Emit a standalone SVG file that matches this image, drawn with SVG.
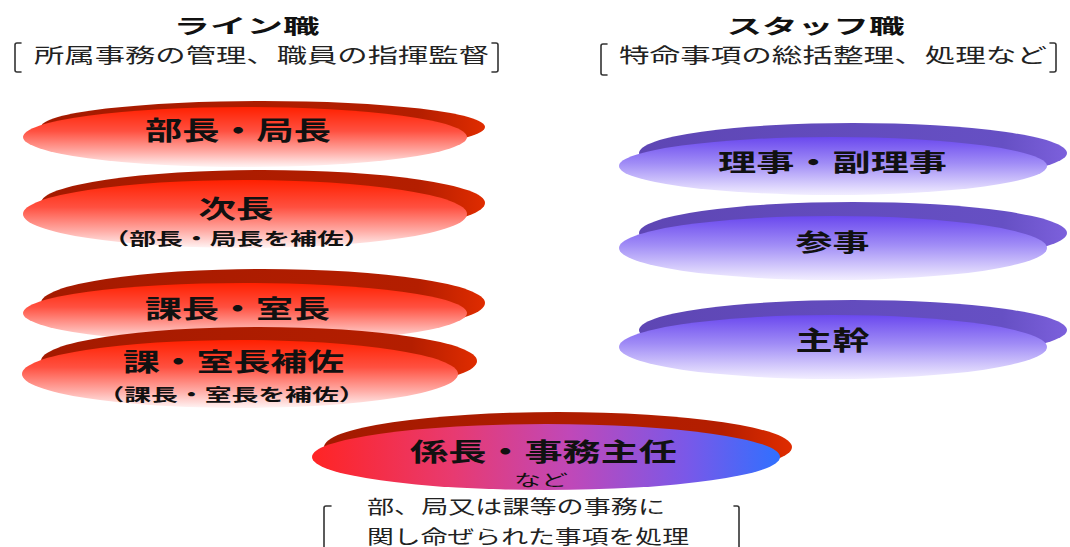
<svg xmlns="http://www.w3.org/2000/svg" width="1070" height="547" viewBox="0 0 1070 547">
<defs>
<linearGradient id="redFace" x1="0" y1="0" x2="0" y2="1">
<stop offset="0" stop-color="#ff2000"/>
<stop offset="0.4" stop-color="#ff5040"/>
<stop offset="0.75" stop-color="#ffaca6"/>
<stop offset="1" stop-color="#fff4f4"/>
</linearGradient>
<linearGradient id="redRim" x1="0" y1="0" x2="1" y2="0">
<stop offset="0" stop-color="#a41a00"/>
<stop offset="0.85" stop-color="#b41e00"/>
<stop offset="1" stop-color="#e02c00"/>
</linearGradient>
<linearGradient id="purpleFace" x1="0" y1="0" x2="0" y2="1">
<stop offset="0" stop-color="#6a48ee"/>
<stop offset="0.45" stop-color="#a08cf6"/>
<stop offset="1" stop-color="#f2eeff"/>
</linearGradient>
<linearGradient id="purpleRim" x1="0" y1="0" x2="1" y2="0">
<stop offset="0" stop-color="#5e46b4"/>
<stop offset="0.85" stop-color="#6650c4"/>
<stop offset="1" stop-color="#7c60dc"/>
</linearGradient>
<linearGradient id="mixFace" x1="0" y1="0" x2="1" y2="0">
<stop offset="0" stop-color="#ff2424"/>
<stop offset="0.3" stop-color="#e83a70"/>
<stop offset="0.55" stop-color="#c048b8"/>
<stop offset="0.8" stop-color="#7a58e8"/>
<stop offset="1" stop-color="#3070ff"/>
</linearGradient>
</defs>
<style>
.rr{fill:url(#redRim)}
.rf{fill:url(#redFace)}
.pr{fill:url(#purpleRim)}
.pf{fill:url(#purpleFace)}
.mf{fill:url(#mixFace)}
.lbl{font-family:"Noto Sans CJK JP","Noto Sans CJK SC",sans-serif;font-weight:bold;fill:#111;text-anchor:middle}
.sub{font-family:"Noto Sans CJK JP","Noto Sans CJK SC",sans-serif;font-weight:bold;fill:#111;text-anchor:middle}
.thin{font-family:"Noto Sans CJK JP","Noto Sans CJK SC",sans-serif;font-weight:normal;fill:#111;text-anchor:middle}
.hd{font-family:"Noto Sans CJK JP","Noto Sans CJK SC",sans-serif;font-weight:bold;fill:#111;text-anchor:middle}
.note{font-family:"Noto Sans CJK JP","Noto Sans CJK SC",sans-serif;font-weight:normal;fill:#222}
.br{fill:none;stroke:#333;stroke-width:1.6;stroke-linecap:round;stroke-linejoin:round}
</style>

<g id="header-line">
<text class="hd" x="246.5" y="34" font-size="20" textLength="146" lengthAdjust="spacingAndGlyphs">ライン職</text>
<path class="br" d="M21,43 L17,43 Q15,43 15,45 L15,70 Q15,72 17,72 L21,72"/>
<text class="note" x="34" y="63" font-size="20" textLength="455" lengthAdjust="spacingAndGlyphs">所属事務の管理、職員の指揮監督</text>
<path class="br" d="M492,43 L496,43 Q498,43 498,45 L498,70 Q498,72 496,72 L492,72"/>
</g>

<g id="header-staff">
<text class="hd" x="815.5" y="34" font-size="20" textLength="178" lengthAdjust="spacingAndGlyphs">スタッフ職</text>
<path class="br" d="M607,44 L603,44 Q601,44 601,46 L601,73 Q601,75 603,75 L607,75"/>
<text class="note" x="619" y="63" font-size="20" textLength="428" lengthAdjust="spacingAndGlyphs">特命事項の総括整理、処理など</text>
<path class="br" d="M1050,43 L1054,43 Q1056,43 1056,45 L1056,70 Q1056,72 1054,72 L1050,72"/>
</g>

<g id="node-bucho">
<ellipse class="rr" cx="263" cy="127" rx="222" ry="26"/>
<ellipse class="rf" cx="245" cy="137" rx="222" ry="30"/>
<text class="lbl" x="238" y="140" font-size="26" textLength="186" lengthAdjust="spacingAndGlyphs">部長・局長</text>
</g>

<g id="node-jicho">
<ellipse class="rr" cx="263" cy="203" rx="222" ry="33"/>
<ellipse class="rf" cx="245" cy="214" rx="222" ry="34"/>
<text class="lbl" x="236" y="218" font-size="25" textLength="75" lengthAdjust="spacingAndGlyphs">次長</text>
<text class="sub" x="236.5" y="245" font-size="17" textLength="268" lengthAdjust="spacingAndGlyphs">（部長・局長を補佐）</text>
</g>

<g id="node-kacho">
<ellipse class="rr" cx="263" cy="303" rx="222" ry="34"/>
<ellipse class="rf" cx="245" cy="313" rx="222" ry="30"/>
<text class="lbl" x="237.5" y="318" font-size="25" textLength="185" lengthAdjust="spacingAndGlyphs">課長・室長</text>
</g>

<g id="node-kachohosa">
<ellipse class="rr" cx="259" cy="361" rx="218" ry="34"/>
<ellipse class="rf" cx="240" cy="374" rx="218" ry="34"/>
<text class="lbl" x="233.5" y="371" font-size="25" textLength="221" lengthAdjust="spacingAndGlyphs">課・室長補佐</text>
<text class="sub" x="231.5" y="401" font-size="17" textLength="268" lengthAdjust="spacingAndGlyphs">（課長・室長を補佐）</text>
</g>

<g id="node-riji">
<ellipse class="pr" cx="853" cy="153" rx="214" ry="30"/>
<ellipse class="pf" cx="833" cy="166" rx="214" ry="29"/>
<text class="lbl" x="832.5" y="171" font-size="24" textLength="229" lengthAdjust="spacingAndGlyphs">理事・副理事</text>
</g>

<g id="node-sanji">
<ellipse class="pr" cx="853" cy="233" rx="214" ry="31"/>
<ellipse class="pf" cx="833" cy="248" rx="214" ry="32"/>
<text class="lbl" x="832.5" y="251" font-size="24" textLength="74" lengthAdjust="spacingAndGlyphs">参事</text>
</g>

<g id="node-shukan">
<ellipse class="pr" cx="853" cy="330" rx="214" ry="30"/>
<ellipse class="pf" cx="833" cy="347" rx="214" ry="32"/>
<text class="lbl" x="832.5" y="350" font-size="26" textLength="74" lengthAdjust="spacingAndGlyphs">主幹</text>
</g>

<g id="node-kakaricho">
<ellipse class="rr" cx="558" cy="447" rx="234" ry="35"/>
<ellipse class="mf" cx="546" cy="457" rx="234" ry="33"/>
<text class="lbl" x="543.5" y="461" font-size="25" textLength="267" lengthAdjust="spacingAndGlyphs">係長・事務主任</text>
<text class="thin" x="541" y="486" font-size="16" textLength="54" lengthAdjust="spacingAndGlyphs">など</text>
</g>

<g id="note-kakaricho">
<path class="br" d="M331,506 L326,506 Q324,506 324,508 L324,550"/>
<text class="note" x="367" y="514" font-size="19" textLength="298" lengthAdjust="spacingAndGlyphs">部、局又は課等の事務に</text>
<text class="note" x="367" y="544" font-size="19" textLength="322" lengthAdjust="spacingAndGlyphs">関し命ぜられた事項を処理</text>
<path class="br" d="M734,506 L737,506 Q739,506 739,508 L739,550"/>
</g>

<g id="connectors"/>
</svg>
